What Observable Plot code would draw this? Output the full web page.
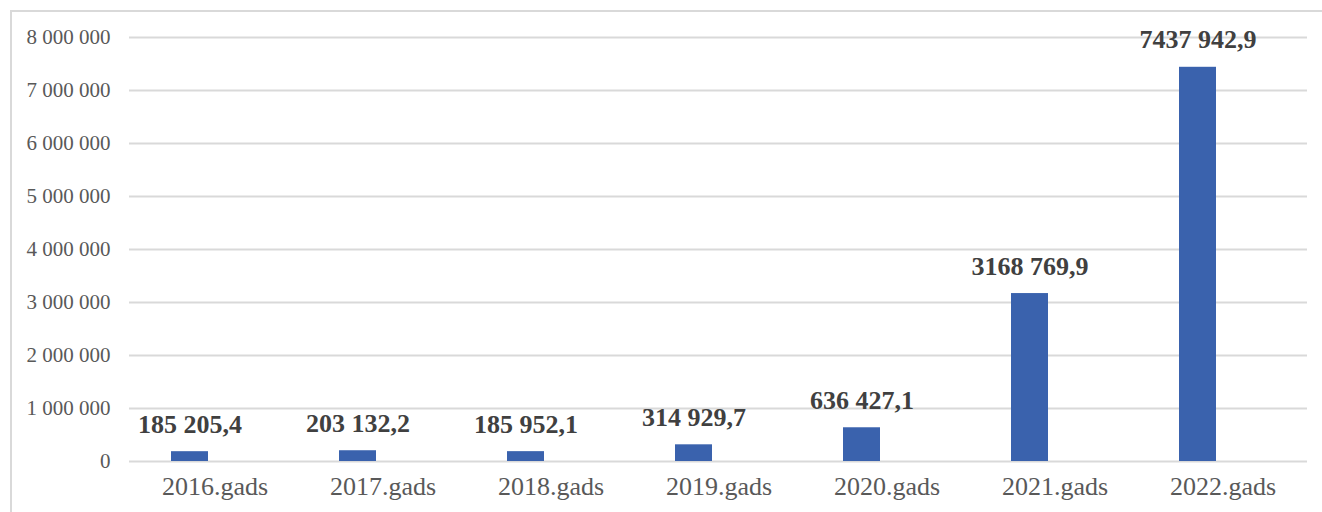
<!DOCTYPE html>
<html>
<head>
<meta charset="utf-8">
<script src="https://cdn.jsdelivr.net/npm/d3@7"></script>
<script src="https://cdn.jsdelivr.net/npm/@observablehq/plot@0.6"></script>
<style>
  html, body { margin: 0; padding: 0; background: #fff; }
  #wrap { position: relative; width: 1322px; height: 512px; overflow: hidden; }
  #frame { position: absolute; left: 10px; top: 10px; width: 1330px; height: 520px; border: 2px solid #d9d9d9; box-sizing: border-box; pointer-events: none; }
</style>
</head>
<body>
<div id="wrap"><div id="frame"></div></div>
<script>
const years = ["2016.gads", "2017.gads", "2018.gads", "2019.gads", "2020.gads", "2021.gads", "2022.gads"];
const values = [185205.4, 203132.2, 185952.1, 314929.7, 636427.1, 3168769.9, 7437942.9];
const valueLabels = ["185 205,4", "203 132,2", "185 952,1", "314 929,7", "636 427,1", "3168 769,9", "7437 942,9"];
const yTicks = [0, 1000000, 2000000, 3000000, 4000000, 5000000, 6000000, 7000000, 8000000];

const data = years.map((y, i) => ({year: y, value: values[i], label: valueLabels[i]}));
const fmt = v => d3.format(",")(v).replace(/,/g, " ");

const chart = Plot.plot({
  width: 1322,
  height: 512,
  marginLeft: 129,
  marginRight: 15,
  marginTop: 37,
  marginBottom: 51,
  style: {fontFamily: "'Liberation Serif', 'Times New Roman', serif", background: "transparent"},
  x: {domain: years, paddingInner: 0.78, paddingOuter: 0.39, label: null},
  y: {domain: [0, 8000000], label: null},
  marks: [
    Plot.gridY(yTicks, {stroke: "#d9d9d9", strokeOpacity: 1, strokeWidth: 2}),
    Plot.barY(data, {x: "year", y: "value", fill: "#3a62ad", dx: -25}),
    Plot.text(data, {x: "year", y: "value", text: "label", dx: -25, dy: -19, lineAnchor: "bottom",
      fontWeight: "bold", fontSize: 26, fill: "#404040"}),
    Plot.axisX({tickSize: 0, tickPadding: 15, fontSize: 26, fill: "#595959"}),
    Plot.axisY({ticks: yTicks, tickFormat: fmt, tickSize: 0, tickPadding: 19, fontSize: 21, fill: "#595959"})
  ]
});
chart.style.position = "absolute";
chart.style.left = "0";
chart.style.top = "0";
document.getElementById("wrap").appendChild(chart);
</script>
</body>
</html>
